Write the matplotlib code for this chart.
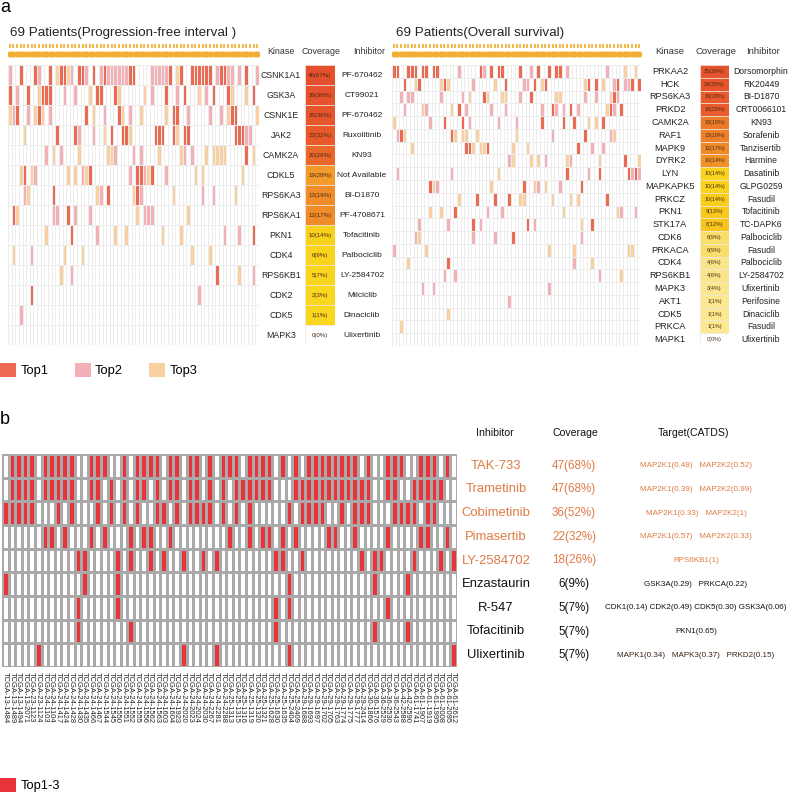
import numpy as np
import matplotlib
matplotlib.use('Agg')
import matplotlib.pyplot as plt
from matplotlib import transforms
from matplotlib.colors import ListedColormap
from matplotlib.patches import Patch

# ---------------- datos ----------------
n_pacientes = 69

pfi_kinases = ['CSNK1A1', 'GSK3A', 'CSNK1E', 'JAK2', 'CAMK2A', 'CDKL5', 'RPS6KA3', 'RPS6KA1',
               'PKN1', 'CDK4', 'RPS6KB1', 'CDK2', 'CDK5', 'MAPK3']
pfi_counts = [46, 26, 25, 22, 20, 19, 13, 12, 10, 6, 5, 2, 1, 0]
pfi_inhibitors = ['PF-670462', 'CT99021', 'PF-670462', 'Ruxolitinib', 'KN93', 'Not Available',
                  'BI-D1870', 'PF-4708671', 'Tofacitinib', 'Palbociclib', 'LY-2584702',
                  'Milciclib', 'Dinaciclib', 'Ulixertinib']
# (columna, rango) 1=Top1 2=Top2 3=Top3
pfi_hits = [
    [(0, 2), (3, 1), (7, 1), (8, 2), (11, 1), (13, 3), (14, 1), (15, 1), (16, 3), (17, 2), (19, 1), (20, 1),
     (21, 2), (23, 1), (25, 2), (26, 1), (27, 2), (28, 2), (29, 2), (30, 2), (31, 2), (32, 2), (33, 1), (34, 1),
     (39, 2), (40, 2), (41, 2), (42, 2), (43, 2), (44, 1), (46, 3), (47, 1), (50, 1), (51, 1), (52, 1), (53, 1),
     (54, 1), (55, 1), (57, 2), (58, 1), (59, 1), (60, 2), (61, 2), (63, 2), (65, 1), (68, 2)],
    [(0, 1), (2, 2), (5, 1), (8, 3), (9, 1), (10, 1), (11, 1), (15, 2), (18, 2), (22, 3), (24, 1), (25, 1),
     (29, 1), (30, 3), (37, 3), (39, 2), (43, 1), (46, 2), (48, 1), (52, 3), (54, 2), (56, 1), (60, 1), (61, 3),
     (65, 3), (67, 1)],
    [(0, 3), (1, 2), (2, 1), (5, 2), (7, 3), (8, 1), (9, 3), (11, 2), (21, 1), (23, 3), (26, 2), (30, 1),
     (31, 3), (33, 2), (36, 3), (43, 3), (45, 1), (46, 1), (49, 2), (55, 2), (58, 2), (60, 3), (61, 1), (62, 1),
     (68, 3)],
    [(4, 3), (13, 1), (18, 1), (19, 2), (23, 2), (26, 3), (28, 1), (31, 1), (32, 1), (33, 3), (40, 1), (41, 1),
     (42, 1), (45, 1), (46, 3), (48, 1), (49, 1), (62, 1), (63, 1), (64, 1), (65, 2), (66, 2)],
    [(10, 2), (12, 3), (14, 2), (19, 3), (27, 3), (28, 3), (29, 2), (34, 2), (36, 2), (41, 3), (47, 3), (48, 2),
     (50, 2), (54, 3), (56, 3), (57, 3), (58, 3), (59, 3), (65, 1), (67, 3)],
    [(3, 3), (4, 1), (6, 3), (7, 2), (16, 3), (18, 3), (20, 2), (21, 3), (22, 1), (33, 2), (35, 1), (36, 1),
     (37, 2), (38, 3), (39, 1), (43, 2), (51, 3), (53, 3), (64, 3)],
    [(4, 2), (5, 3), (12, 1), (24, 3), (25, 2), (27, 1), (34, 3), (35, 1), (36, 2), (45, 3), (53, 2), (56, 2),
     (62, 3)],
    [(1, 1), (2, 3), (12, 2), (13, 2), (16, 1), (18, 2), (22, 2), (35, 3), (37, 2), (38, 2), (39, 2), (49, 3)],
    [(10, 3), (17, 1), (24, 2), (29, 3), (32, 3), (42, 3), (47, 3), (59, 2), (63, 2), (67, 1)],
    [(1, 3), (6, 2), (15, 3), (20, 3), (50, 3), (55, 3)],
    [(14, 3), (17, 2), (57, 1), (63, 3), (67, 2)],
    [(6, 1), (52, 2)],
    [(3, 2)],
    [],
]

os_kinases = ['PRKAA2', 'HCK', 'RPS6KA3', 'PRKD2', 'CAMK2A', 'RAF1', 'MAPK9', 'DYRK2', 'LYN',
              'MAPKAPK5', 'PRKCZ', 'PKN1', 'STK17A', 'CDK6', 'PRKACA', 'CDK4', 'RPS6KB1', 'MAPK3',
              'AKT1', 'CDK5', 'PRKCA', 'MAPK1']
os_counts = [25, 24, 19, 18, 13, 13, 12, 10, 10, 10, 10, 9, 8, 6, 6, 4, 4, 3, 1, 1, 1, 0]
os_inhibitors = ['Dorsomorphin', 'RK20449', 'BI-D1870', 'CRT0066101', 'KN93', 'Sorafenib',
                 'Tanzisertib', 'Harmine', 'Dasatinib', 'GLPG0259', 'Fasudil', 'Tofacitinib',
                 'TC-DAPK6', 'Palbociclib', 'Fasudil', 'Palbociclib', 'LY-2584702', 'Ulixertinib',
                 'Perifosine', 'Dinaciclib', 'Fasudil', 'Ulixertinib']
os_hits = [
    [(0, 1), (1, 1), (4, 1), (5, 1), (6, 1), (8, 1), (9, 1), (11, 1), (12, 1), (18, 2), (24, 1), (25, 2),
     (27, 1), (29, 1), (30, 1), (35, 1), (38, 2), (40, 1), (43, 1), (45, 1), (46, 1), (48, 2), (59, 2), (64, 3),
     (67, 3)],
    [(3, 1), (6, 3), (7, 1), (13, 3), (14, 1), (15, 3), (22, 2), (28, 3), (31, 1), (36, 2), (37, 2), (39, 1),
     (41, 3), (42, 1), (53, 3), (54, 1), (56, 1), (58, 3), (61, 2), (62, 1), (64, 2), (65, 2), (66, 1), (68, 1)],
    [(2, 2), (4, 2), (5, 2), (13, 2), (19, 2), (21, 3), (25, 1), (26, 3), (30, 3), (31, 3), (35, 2), (38, 1),
     (45, 3), (46, 3), (53, 2), (56, 2), (60, 3), (61, 1), (62, 2)],
    [(3, 2), (8, 3), (9, 2), (16, 3), (18, 1), (20, 2), (27, 2), (31, 2), (41, 2), (44, 1), (45, 2), (47, 2),
     (49, 1), (51, 2), (59, 3), (60, 1), (61, 2), (63, 1)],
    [(0, 3), (10, 2), (14, 1), (19, 1), (21, 2), (29, 2), (34, 2), (41, 1), (47, 1), (50, 1), (54, 3), (56, 3),
     (58, 1)],
    [(1, 2), (2, 1), (3, 3), (16, 1), (17, 3), (19, 3), (20, 3), (23, 3), (34, 3), (44, 2), (53, 1), (60, 2),
     (61, 3)],
    [(5, 3), (20, 1), (21, 1), (22, 3), (24, 3), (25, 3), (26, 1), (33, 3), (37, 3), (51, 1), (55, 2), (58, 2)],
    [(32, 2), (33, 3), (38, 3), (40, 3), (42, 2), (48, 3), (49, 2), (57, 3), (64, 1), (68, 3)],
    [(1, 2), (16, 2), (29, 3), (48, 1), (54, 2), (57, 1), (65, 1), (66, 2), (67, 1), (68, 2)],
    [(10, 1), (11, 3), (12, 2), (27, 3), (36, 1), (39, 3), (40, 2), (42, 3), (46, 2), (52, 1)],
    [(18, 3), (23, 1), (28, 1), (32, 1), (35, 3), (36, 3), (44, 3), (49, 3), (51, 3), (59, 1)],
    [(10, 3), (13, 3), (17, 1), (26, 2), (30, 2), (47, 3), (62, 3), (63, 2), (67, 2)],
    [(7, 2), (15, 2), (22, 1), (24, 2), (37, 1), (39, 2), (52, 3), (55, 1)],
    [(6, 2), (7, 3), (22, 2), (28, 2), (33, 1), (52, 2)],
    [(0, 2), (9, 3), (43, 3), (50, 3), (65, 3), (66, 3)],
    [(4, 3), (15, 1), (50, 2), (55, 3)],
    [(14, 2), (17, 2), (57, 2), (63, 3)],
    [(8, 2), (11, 2), (43, 2)],
    [(32, 2)],
    [(15, 3)],
    [(2, 3)],
    [],
]

b_inhibitors = ['TAK-733', 'Trametinib', 'Cobimetinib', 'Pimasertib', 'LY-2584702',
                'Enzastaurin', 'R-547', 'Tofacitinib', 'Ulixertinib']
b_counts = [47, 47, 36, 22, 18, 6, 5, 5, 5]
b_targets = ['MAP2K1(0.48)   MAP2K2(0.52)', 'MAP2K1(0.39)   MAP2K2(0.99)', 'MAP2K1(0.33)   MAP2K2(1)',
             'MAP2K1(0.57)   MAP2K2(0.33)', 'RPS6KB1(1)', 'GSK3A(0.29)   PRKCA(0.22)',
             'CDK1(0.14) CDK2(0.49) CDK5(0.30) GSK3A(0.06)', 'PKN1(0.65)',
             'MAPK1(0.34)   MAPK3(0.37)   PRKD2(0.15)']
b_hits = [
    [1, 2, 3, 4, 6, 7, 8, 9, 10, 13, 14, 15, 18, 20, 21, 22, 23, 25, 26, 28, 29, 31, 33, 34, 35, 37, 38, 39,
     40, 42, 44, 46, 47, 48, 49, 50, 51, 52, 53, 55, 58, 59, 60, 63, 64, 65, 67],
    [1, 2, 3, 4, 6, 7, 8, 9, 10, 13, 14, 16, 18, 20, 21, 23, 25, 26, 28, 29, 31, 33, 35, 36, 37, 38, 39, 40,
     44, 45, 46, 47, 48, 49, 50, 51, 52, 53, 54, 55, 58, 59, 62, 63, 64, 65, 66],
    [0, 1, 2, 3, 4, 8, 10, 14, 16, 18, 20, 23, 24, 26, 28, 29, 30, 31, 33, 35, 37, 43, 45, 46, 47, 48, 51, 53,
     54, 55, 59, 60, 61, 62, 64, 65],
    [6, 7, 9, 13, 15, 19, 21, 22, 25, 34, 37, 39, 40, 42, 44, 49, 50, 53, 58, 63, 64, 67],
    [11, 12, 17, 19, 22, 24, 27, 30, 32, 41, 42, 45, 54, 56, 57, 62, 66, 68],
    [0, 12, 17, 43, 56, 61],
    [11, 17, 41, 43, 58],
    [11, 19, 41, 56, 61],
    [5, 27, 32, 43, 68],
]
muestras = ['TCGA-13-1484', 'TCGA-13-1489', 'TCGA-13-1494', 'TCGA-13-2071', 'TCGA-23-1123', 'TCGA-23-1124',
            'TCGA-24-1103', 'TCGA-24-1104', 'TCGA-24-1417', 'TCGA-24-1424', 'TCGA-24-1428', 'TCGA-24-1430',
            'TCGA-24-1435', 'TCGA-24-1466', 'TCGA-24-1467', 'TCGA-24-1544', 'TCGA-24-1545', 'TCGA-24-1550',
            'TCGA-24-1551', 'TCGA-24-1552', 'TCGA-24-1555', 'TCGA-24-1556', 'TCGA-24-1562', 'TCGA-24-1563',
            'TCGA-24-1603', 'TCGA-24-1604', 'TCGA-24-1923', 'TCGA-24-2020', 'TCGA-24-2023', 'TCGA-24-2024',
            'TCGA-24-2030', 'TCGA-24-2267', 'TCGA-24-2281', 'TCGA-24-2288', 'TCGA-25-1313', 'TCGA-25-1315',
            'TCGA-25-1316', 'TCGA-25-1319', 'TCGA-25-1320', 'TCGA-25-1321', 'TCGA-25-1628', 'TCGA-25-1630',
            'TCGA-25-1635', 'TCGA-25-2404', 'TCGA-25-2409', 'TCGA-29-1688', 'TCGA-29-1693', 'TCGA-29-1697',
            'TCGA-29-1702', 'TCGA-29-1705', 'TCGA-29-1763', 'TCGA-29-1774', 'TCGA-29-1775', 'TCGA-29-1777',
            'TCGA-29-2414', 'TCGA-30-1866', 'TCGA-36-1576', 'TCGA-36-2529', 'TCGA-36-2530', 'TCGA-36-2543',
            'TCGA-42-2588', 'TCGA-42-2590', 'TCGA-61-1741', 'TCGA-61-1907', 'TCGA-61-1919', 'TCGA-61-1995',
            'TCGA-61-2008', 'TCGA-61-2095', 'TCGA-61-2612']

# ---------------- estilo ----------------
W, H = 790, 793
top_colors = ['#FFFFFF', '#EC6A52', '#F3B0B6', '#F9D0A2']
pfi_cov_colors = ['#E44F2D', '#E6532E', '#E7552D', '#E85A2C', '#EB682B', '#F39A2C', '#F08D2A', '#F08D2A',
                  '#F8D11C', '#F8D41E', '#F9D51F', '#F9D620', '#F9D620', '#FFFFFF']
os_cov_colors = ['#E8532F', '#E8542E', '#E95A2D', '#E95B2D', '#ED7A2A', '#EE8029', '#EF8A28', '#F09228',
                 '#F8D41E', '#F8D21E', '#F8CC1D', '#F8C81B', '#F6C41A', '#FADE6A', '#FADE6A', '#FBE58A',
                 '#FBE58A', '#FCE78F', '#FCE890', '#FCE890', '#FCE890', '#FFFFFF']
rojo_b = '#E8333B'
naranja_txt = '#DF7A45'

plt.rcParams['font.family'] = ['Liberation Sans', 'DejaVu Sans']

fig = plt.figure(figsize=(W / 100, H / 100), dpi=100)


def ejes_px(x0, y0, x1, y1):
    ax = fig.add_axes([x0 / W, 1 - y1 / H, (x1 - x0) / W, (y1 - y0) / H])
    ax.set_axis_off()
    return ax


def fx(x):
    return x / W


def fy(y):
    return 1 - y / H


def matriz(hits):
    m = np.zeros((len(hits), n_pacientes))
    for r, fila in enumerate(hits):
        for c, v in fila:
            m[r, c] = v
    return m


def panel_superior(titulo, kinasas, conteos, inhibidores, hits, cov_colores, g):
    n = len(kinasas)
    # barra de anotacion naranja
    ax_a = ejes_px(g['x0'], 43, g['x1'], 58)
    xs = np.arange(n_pacientes) + 0.5
    ax_a.scatter(xs, np.full(n_pacientes, 0.45), marker='|', s=8, color='#F2B33D', linewidths=1.3)
    ax_a.scatter(xs, np.full(n_pacientes, 1.4), marker='o', s=20, color='#F2AE35', linewidths=0)
    ax_a.set_xlim(0, n_pacientes)
    ax_a.set_ylim(2, 0)

    # heatmap
    ax = ejes_px(g['x0'], 65, g['x1'], g['y1'])
    ax.pcolormesh(matriz(hits), cmap=ListedColormap(top_colors), vmin=-0.5, vmax=3.5,
                  edgecolors='#ECECEC', linewidth=0.4)
    ax.set_xlim(0, n_pacientes)
    ax.set_ylim(n, 0)

    # columna de cobertura
    ax_c = ejes_px(g['cx0'], 65, g['cx1'], g['y1'])
    ax_c.barh(np.arange(n) + 0.5, np.ones(n), height=1, color=cov_colores,
              edgecolor='#EFE6DC', linewidth=0.5)
    ax_c.set_xlim(0, 1)
    ax_c.set_ylim(n, 0)
    for i, c in enumerate(conteos):
        ax_c.text(0.5, i + 0.5, f'{c}({round(100 * c / n_pacientes)}%)', ha='center', va='center',
                  fontsize=g['fs_cov'], color='#4A2A12')

    tr = transforms.blended_transform_factory(fig.transFigure, ax.transData)
    for i in range(n):
        ax.text(fx(g['kx']), i + 0.5, kinasas[i], transform=tr, ha='center', va='center',
                fontsize=g['fs_lab'], color='#222222')
        ax.text(fx(g['ix']), i + 0.5, inhibidores[i], transform=tr, ha='center', va='center',
                fontsize=g['fs_inh'], color='#222222')

    fig.text(fx(g['tx']), fy(33), titulo, ha='left', va='center', fontsize=9.6, color='#222222')
    for etiqueta, x in [('Kinase', g['kx']), ('Coverage', (g['cx0'] + g['cx1']) / 2 + 1),
                        ('Inhibitor', g['ihx'])]:
        fig.text(fx(x), fy(52), etiqueta, ha='center', va='center', fontsize=g['fs_head'], color='#333333')


panel_superior('69 Patients(Progression-free interval )', pfi_kinases, pfi_counts, pfi_inhibitors,
               pfi_hits, pfi_cov_colors,
               dict(x0=8, x1=259, y1=345, cx0=305, cx1=335, kx=281, ix=362, ihx=369, tx=10,
                    fs_cov=4.4, fs_lab=6.3, fs_inh=6.0, fs_head=6.4))
panel_superior('69 Patients(Overall survival)', os_kinases, os_counts, os_inhibitors,
               os_hits, os_cov_colors,
               dict(x0=392, x1=641, y1=346, cx0=700, cx1=729, kx=670, ix=761, ihx=763, tx=396,
                    fs_cov=3.9, fs_lab=6.6, fs_inh=6.2, fs_head=6.8))

fig.text(0.0, fy(7), 'a', fontsize=13, ha='left', va='center')
fig.text(0.0, fy(419), 'b', fontsize=13, ha='left', va='center')

# leyenda superior
manejadores = [Patch(facecolor=top_colors[k], edgecolor='none', label=f'Top{k}') for k in (1, 2, 3)]
fig.legend(handles=manejadores, loc='center left', bbox_to_anchor=(fx(0), fy(370)), ncol=3,
           frameon=False, handlelength=1.25, handleheight=1.25, handletextpad=0.35,
           columnspacing=2.0, borderaxespad=0, borderpad=0, prop={'size': 9.3})

# ---------------- panel b ----------------
nb = len(b_inhibitors)
mb = np.zeros((nb, n_pacientes))
for r, cols in enumerate(b_hits):
    mb[r, cols] = 1
ax_b = ejes_px(2, 454, 457, 667)
ax_b.pcolormesh(mb, cmap=ListedColormap(['#FFFFFF', rojo_b]), vmin=0, vmax=1,
                edgecolors='#A9A9A9', linewidth=1.0)
ax_b.set_xlim(0, n_pacientes)
ax_b.set_ylim(nb, 0)

trx = transforms.blended_transform_factory(ax_b.transData, fig.transFigure)
for j, s in enumerate(muestras):
    ax_b.text(j + 0.5, fy(672), s, transform=trx, rotation=-90, ha='center', va='top',
              fontsize=5.4, color='#222222')

try_ = transforms.blended_transform_factory(fig.transFigure, ax_b.transData)
for i in range(nb):
    col = naranja_txt if i < 5 else '#111111'
    col_t = naranja_txt if i < 5 else ('#3B2416' if i == 8 else '#111111')
    ax_b.text(fx(496), i + 0.5, b_inhibitors[i], transform=try_, ha='center', va='center',
              fontsize=9.4, color=col)
    ax_b.text(fx(574), i + 0.5, f'{b_counts[i]}({round(100 * b_counts[i] / n_pacientes)}%)',
              transform=try_, ha='center', va='center', fontsize=8.4, color=col)
    ax_b.text(fx(696), i + 0.5, b_targets[i], transform=try_, ha='center', va='center',
              fontsize=5.8, color=col_t)

for etiqueta, x in [('Inhibitor', 495), ('Coverage', 575), ('Target(CATDS)', 693)]:
    fig.text(fx(x), fy(433), etiqueta, ha='center', va='center', fontsize=7.6, color='#111111')

fig.legend(handles=[Patch(facecolor=rojo_b, edgecolor='none', label='Top1-3')], loc='center left',
           bbox_to_anchor=(fx(0), fy(785)), frameon=False, handlelength=1.25, handleheight=1.25,
           handletextpad=0.35, borderaxespad=0, borderpad=0, prop={'size': 9.3})

fig.savefig('out.png', dpi=100, facecolor='white')
